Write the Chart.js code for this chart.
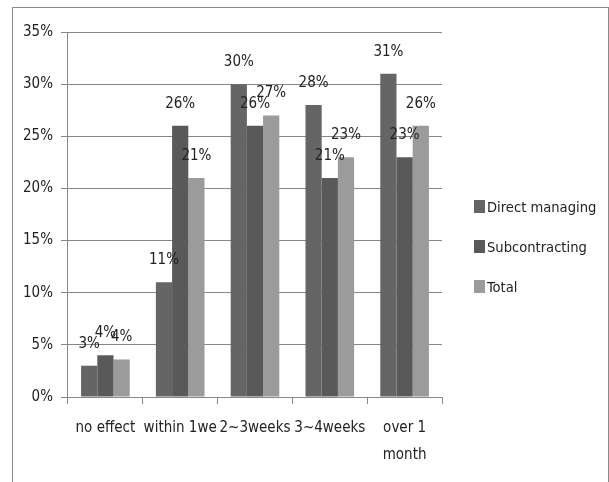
<!DOCTYPE html>
<html>
<head>
<meta charset="utf-8">
<script src="https://cdn.jsdelivr.net/npm/chart.js@4/dist/chart.umd.min.js"></script>
<style>
  html, body { margin: 0; padding: 0; background: #fff; overflow: hidden; }
  #frame { position: absolute; left: 12px; top: 7px; width: 597px; height: 480px;
           border: 1px solid #8a8a8a; border-bottom: none; box-sizing: border-box; }
  #wrap { position: absolute; left: 13px; top: 8px; width: 594px; height: 474px; }
  #legend { position: absolute; left: 474px; top: 195px; margin: 0; padding: 0; list-style: none;
            font: 14.6px "DejaVu Sans Condensed", sans-serif; color: #222; }
  #legend li { height: 40px; line-height: 24px; white-space: nowrap; }
  #legend span.box { display: inline-block; width: 11px; height: 13px; margin-right: 2px; vertical-align: -1px; }
</style>
</head>
<body>
<div id="frame"></div>
<div id="wrap"><canvas id="c"></canvas></div>
<ul id="legend"></ul>
<script>
// Time until the effect appears, share of respondents (%)
const categories = ['no effect', 'within 1we', '2~3weeks', '3~4weeks', ['over 1', 'month']];
const directManaging = [3, 11, 30, 28, 31];
const subcontracting = [4, 26, 26, 21, 23];
const total = [3.6, 21, 27, 23, 26];
const yTicks = [0, 5, 10, 15, 20, 25, 30, 35];

const FONT = '"DejaVu Sans Condensed", sans-serif';
const TEXT = '#222';
const GRID = '#878787';

// value labels above every bar
const barLabels = {
  id: 'barLabels',
  afterDatasetsDraw(chart) {
    const ctx = chart.ctx;
    ctx.save();
    ctx.font = '15px ' + FONT;
    ctx.fillStyle = TEXT;
    ctx.textAlign = 'center';
    ctx.textBaseline = 'middle';
    chart.data.datasets.forEach((ds, i) => {
      chart.getDatasetMeta(i).data.forEach((bar, j) => {
        ctx.fillText(Math.round(ds.data[j]) + '%', bar.x, bar.y - 22);
      });
    });
    ctx.restore();
  }
};

const chart = new Chart(document.getElementById('c'), {
  type: 'bar',
  data: {
    labels: categories,
    datasets: [
      { label: 'Direct managing', data: directManaging, backgroundColor: '#656565' },
      { label: 'Subcontracting', data: subcontracting, backgroundColor: '#595959' },
      { label: 'Total', data: total, backgroundColor: '#9b9b9b' }
    ]
  },
  options: {
    responsive: true,
    maintainAspectRatio: false,
    animation: false,
    datasets: { bar: { categoryPercentage: 0.65, barPercentage: 1.0, borderWidth: 0 } },
    layout: { padding: { top: 24, left: 2, right: 165, bottom: 2 } },
    plugins: {
      tooltip: { enabled: false },
      legend: { display: false }
    },
    scales: {
      x: {
        grid: { drawOnChartArea: false, drawTicks: true, tickLength: 7, color: GRID, offset: true },
        border: { color: GRID, width: 1 },
        ticks: { color: TEXT, font: { family: FONT, size: 15, lineHeight: 1.8 }, padding: 11, maxRotation: 0, autoSkip: false }
      },
      y: {
        min: 0,
        max: 35,
        afterBuildTicks(axis) { axis.ticks = yTicks.map(v => ({ value: v })); },
        grid: { color: GRID, lineWidth: 1, tickLength: 7 },
        border: { color: GRID, width: 1 },
        ticks: { color: TEXT, font: { family: FONT, size: 15 }, padding: 8, callback: v => v + '%' }
      }
    }
  },
  plugins: [barLabels]
});

// legend list built from the datasets
const legend = document.getElementById('legend');
chart.data.datasets.forEach(ds => {
  const li = document.createElement('li');
  const box = document.createElement('span');
  box.className = 'box';
  box.style.background = ds.backgroundColor;
  li.appendChild(box);
  li.appendChild(document.createTextNode(ds.label));
  legend.appendChild(li);
});
</script>
</body>
</html>
